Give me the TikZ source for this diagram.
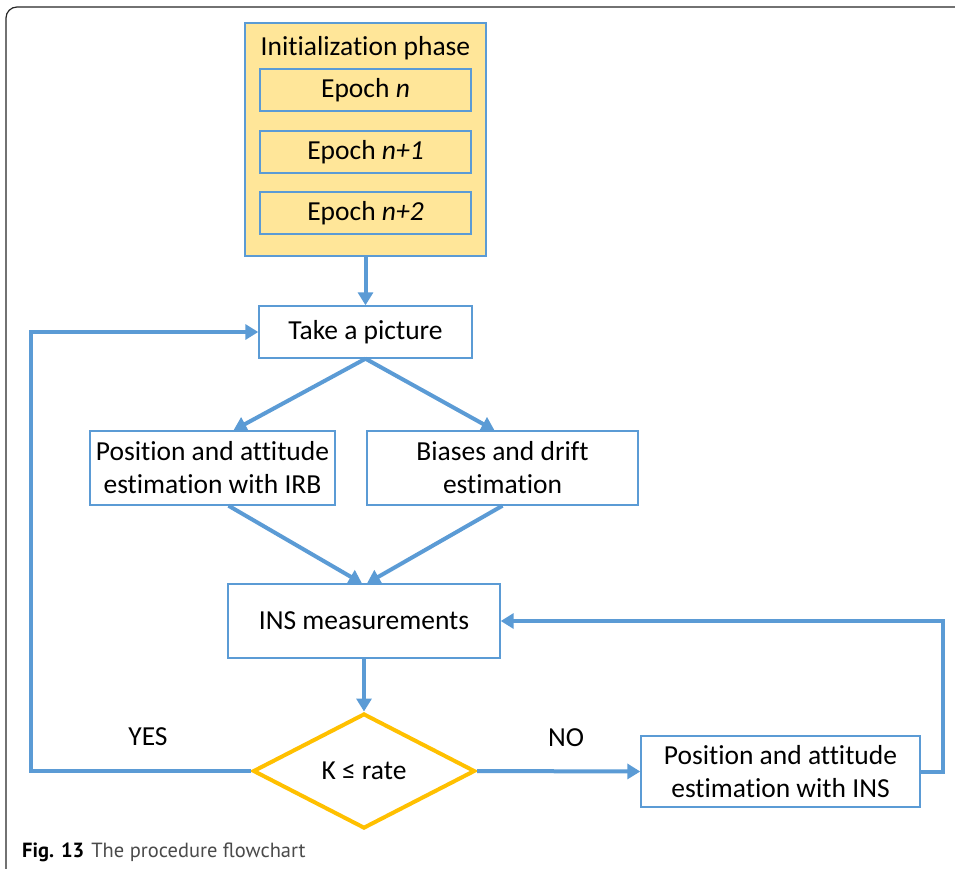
\documentclass[tikz,border=0pt]{standalone}
\usepackage{fontspec}
\setmainfont[Ligatures={NoCommon}]{Carlito}
\newfontfamily\capfont{PT Sans}
\usepackage{xcolor}
\usepackage{tikz}
\usetikzlibrary{calc,shapes.geometric,arrows.meta}

\definecolor{flowblue}{HTML}{5B9BD5}
\definecolor{initfill}{HTML}{FFE699}
\definecolor{decgold}{HTML}{FFC000}
\definecolor{capgray}{HTML}{4A4A4A}

\tikzset{
	box/.style={draw=flowblue, line width=1.4pt, fill=white, inner sep=0pt, align=center,
		font=\fontsize{27.5}{33}\selectfont},
	epochbox/.style={box, fill=initfill, minimum width=211pt, minimum height=42pt},
	flow/.style={draw=flowblue, line width=4pt, -{Triangle[length=13pt,width=15pt]}},
	decision/.style={diamond, draw=decgold, line width=4pt, fill=white, aspect=1.93,
		minimum width=222pt, minimum height=115pt, inner sep=0pt, font=\fontsize{27.5}{33}\selectfont}
}

\begin{document}
\begin{tikzpicture}[x=1pt, y=-1pt]
		\useasboundingbox (0,0) rectangle (955,868);
		% outer frame
		\begin{scope}
			\clip (0,0) rectangle (955,868);
			\draw[line width=1.2pt, black!85, rounded corners=11pt] (6,7) rectangle (990,900);
		\end{scope}
		% initialization phase
		\node[box, fill=initfill, minimum width=241pt, minimum height=233pt] (init) at (365.5,139.5) {};
		\node[font=\fontsize{27.5}{33}\selectfont] (inittitle) at (365.5,48) {Initialization phase};
		\node[epochbox] (ep0) at (365.5,90) {Epoch \textit{n}};
		\node[epochbox] (ep1) at (365.5,152) {Epoch \textit{n+1}};
		\node[epochbox] (ep2) at (365.5,213) {Epoch \textit{n+2}};
		% main flow
		\node[box, minimum width=213pt, minimum height=52pt] (take) at (365.5,332) {Take a picture};
		\node[box, minimum width=245pt, minimum height=74pt] (irb) at (212.5,468) {Position and attitude\\estimation with IRB};
		\node[box, minimum width=271pt, minimum height=74pt] (bias) at (502.5,468) {Biases and drift\\estimation};
		\node[box, minimum width=272pt, minimum height=74pt] (ins) at (364,621) {INS measurements};
		\node[decision] (dec) at (364,771) {K ≤ rate};
		\node[box, minimum width=279pt, minimum height=71pt] (posins) at (780.5,771.5) {Position and attitude\\estimation with INS};
		\coordinate (yesx) at (31,0);
		% connectors
		\draw[flow] (init.south) -- (take.north);
		\draw[flow] (take.south) -- ([xshift=21pt]irb.north);
		\draw[flow] (take.south) -- ([xshift=-8pt]bias.north);
		\draw[flow] ([xshift=16pt]irb.south) -- ([xshift=-2pt]ins.north);
		\draw[flow] (bias.south) -- ([xshift=3pt]ins.north);
		\draw[flow] (ins.south) -- (dec.north);
		\draw[flow] (dec.west) -- (dec.west -| yesx) |- (take.west);
		\draw[flow] (dec.east) -- (posins.west);
		\draw[flow] (posins.east) -- ++(22,0) |- (ins.east);
		% branch labels
		\node[font=\fontsize{27.5}{33}\selectfont] (yes) at (148,737) {YES};
		\node[font=\fontsize{27.5}{33}\selectfont] (no) at (566,738) {NO};
		% caption
		\node[anchor=west, inner sep=0pt, font=\capfont\fontsize{20.5}{24}\selectfont, text=capgray] (cap) at (22,852)
			{\textcolor{black}{\textbf{Fig. 13}}\hspace{7pt}The procedure flowchart};
	\end{tikzpicture}
\end{document}
